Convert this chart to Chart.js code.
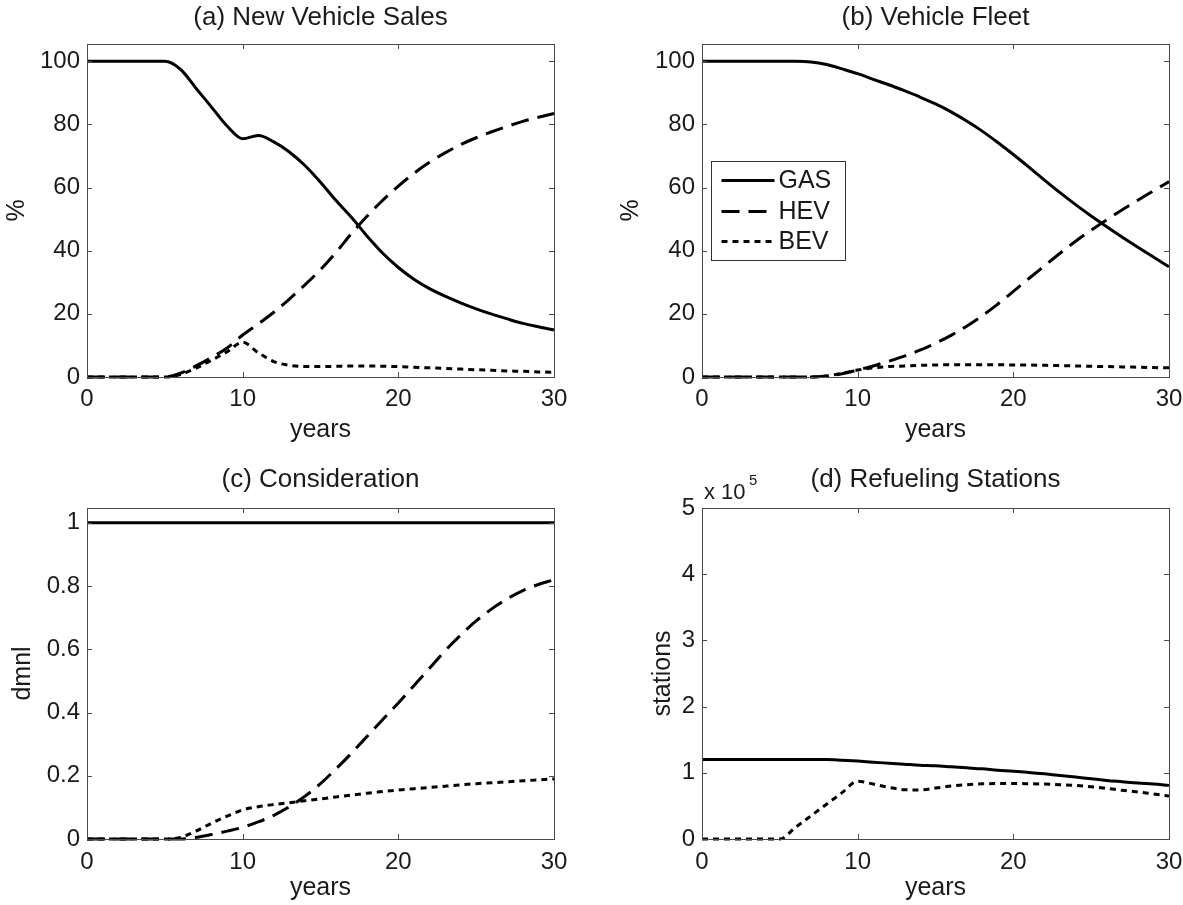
<!DOCTYPE html>
<html>
<head>
<meta charset="utf-8">
<script src="https://cdn.jsdelivr.net/npm/chart.js@4.4.1/dist/chart.umd.min.js"></script>
<style>
html, body { margin: 0; padding: 0; background: #fff; width: 1183px; height: 905px; overflow: hidden; }
canvas { position: absolute; display: block; }
</style>
</head>
<body>
<canvas id="ca"></canvas>
<canvas id="cb"></canvas>
<canvas id="cc"></canvas>
<canvas id="cd"></canvas>
<script>
// ---------------- data ----------------
const years = [0,1,2,3,4,5,6,7,8,9,10,11,12,13,14,15,16,17,18,19,20,21,22,23,24,25,26,27,28,29,30];
const xTicks = [0, 10, 20, 30];
const pctTicks = [0, 20, 40, 60, 80, 100];
const dmnlTicks = [0, 0.2, 0.4, 0.6, 0.8, 1];
const stationTicks = [0, 100000, 200000, 300000, 400000, 500000];

const seriesNames = ['GAS', 'HEV', 'BEV'];
const titles = ['(a) New Vehicle Sales', '(b) Vehicle Fleet', '(c) Consideration', '(d) Refueling Stations'];
const xLabel = 'years';
const yLabels = ['%', '%', 'dmnl', 'stations'];

// (a) new vehicle sales, %
const salesGAS = [100,100,100,100,100,100,97.5,91.5,85.5,79.5,75.5,76.5,74.5,71.3,67,61.7,55.9,50.5,44.6,39.2,34.7,31,28,25.6,23.5,21.6,19.9,18.4,17,15.9,14.9];
const salesHEV = [0,0,0,0,0,0,1.2,3.5,6.2,9.2,13.3,16.8,20.5,24.7,29.2,34,39.5,45.5,51,56,60.5,64.5,68,71,73.6,75.8,77.7,79.4,81,82.3,83.5];
const salesBEV = [0,0,0,0,0,0,0.8,2.8,5.3,8,11,7.7,4.9,3.7,3.3,3.3,3.4,3.5,3.5,3.4,3.3,3.1,2.9,2.7,2.5,2.3,2.1,1.9,1.8,1.6,1.5];

// (b) vehicle fleet, %
const fleetGAS = [100,100,100,100,100,100,100,99.8,99,97.6,96.1,94.3,92.6,90.7,88.7,86.5,84,81.1,77.9,74.3,70.5,66.5,62.4,58.4,54.6,51,47.6,44.3,41.1,38,34.9];
const fleetHEV = [0,0,0,0,0,0,0,0,0.3,1,2.2,3.5,5,6.6,8.5,10.7,13.2,16.1,19.4,23.1,27.1,31.2,35.2,39.2,43,46.5,49.8,53,56,59,61.9];
const fleetBEV = [0,0,0,0,0,0,0,0,0.3,1.2,2.2,2.9,3.3,3.5,3.7,3.8,3.9,3.9,3.9,3.9,3.8,3.8,3.7,3.6,3.5,3.4,3.3,3.2,3.1,3.0,2.9];

// (c) consideration, dmnl
const considGAS = [1,1,1,1,1,1,1,1,1,1,1,1,1,1,1,1,1,1,1,1,1,1,1,1,1,1,1,1,1,1,1];
const considHEV = [0,0,0,0,0,0,0,0.005,0.014,0.025,0.037,0.054,0.075,0.102,0.135,0.175,0.222,0.272,0.325,0.378,0.43,0.485,0.54,0.595,0.645,0.69,0.728,0.76,0.786,0.805,0.82];
const considBEV = [0,0,0,0,0,0,0.005,0.025,0.05,0.072,0.092,0.102,0.109,0.115,0.121,0.127,0.133,0.139,0.145,0.15,0.155,0.159,0.163,0.167,0.171,0.175,0.178,0.181,0.184,0.187,0.19];

// (d) refueling stations
const stationsGAS = [120000,120000,120000,120000,120000,120000,120000,120000,120000,119000,117700,116000,114500,113000,111500,110500,109000,107500,106000,104000,102500,100500,98500,96000,93500,91000,88500,86500,84500,83000,81000];
const stationsBEV = [0,0,0,0,0,0,17500,35000,52500,70000,87400,83000,78000,74500,74000,77000,80000,82000,83300,83700,83800,83500,83000,82000,81000,79000,76500,73500,71000,68000,65000];

// ---------------- styling ----------------
const FONT = '"Liberation Sans", Arial, Helvetica, sans-serif';
const TEXT = '#1a1a1a';
const TICK_PX = 24, LABEL_PX = 25, TITLE_PX = 26, LEGEND_PX = 25;
const styles = {
  GAS: { dash: [], order: 2 },
  HEV: { dash: [18, 9], order: 1 },
  BEV: { dash: [6, 5], order: 0 }
};

function dataset(name, values) {
  const s = styles[name];
  return {
    label: name,
    data: years.map((x, i) => ({ x: x, y: values[i] })),
    borderColor: '#000',
    borderWidth: 3,
    borderDash: s.dash,
    borderCapStyle: 'butt',
    borderJoinStyle: 'round',
    pointRadius: 0,
    pointHoverRadius: 0,
    fill: false,
    cubicInterpolationMode: 'monotone',
    order: s.order,
    clip: false
  };
}

const decor = {
  id: 'decor',
  afterDraw(chart, args, opts) {
    const ctx = chart.ctx, a = chart.chartArea, xs = chart.scales.x, ys = chart.scales.y;
    ctx.save();
    ctx.strokeStyle = '#4a4a4a';
    ctx.lineWidth = 1;
    ctx.setLineDash([]);
    const TL = 5;
    ctx.beginPath();
    xs.ticks.forEach(t => {
      const px = Math.round(xs.getPixelForValue(t.value)) + 0.5;
      ctx.moveTo(px, a.bottom); ctx.lineTo(px, a.bottom - TL);
      ctx.moveTo(px, a.top); ctx.lineTo(px, a.top + TL);
    });
    ys.ticks.forEach(t => {
      const py = Math.round(ys.getPixelForValue(t.value)) + 0.5;
      ctx.moveTo(a.left, py); ctx.lineTo(a.left + TL, py);
      ctx.moveTo(a.right, py); ctx.lineTo(a.right - TL, py);
    });
    ctx.stroke();
    ctx.strokeRect(Math.round(a.left) + 0.5, Math.round(a.top) + 0.5,
                   Math.round(a.right - a.left), Math.round(a.bottom - a.top));

    // title
    ctx.fillStyle = TEXT;
    ctx.font = TITLE_PX + 'px ' + FONT;
    ctx.textAlign = 'center';
    ctx.textBaseline = 'middle';
    ctx.fillText(opts.title, (a.left + a.right) / 2, opts.titleY);

    // exponent marker
    if (opts.exponent) {
      ctx.textAlign = 'left';
      ctx.textBaseline = 'alphabetic';
      ctx.font = '22px ' + FONT;
      ctx.fillText('x 10', a.left + 2, a.top - 9);
      ctx.font = '15px ' + FONT;
      ctx.fillText(opts.exponent, a.left + 47, a.top - 23);
    }

    // legend
    if (opts.legend) {
      const lx = Math.round(a.left + 9) + 0.5, ly = Math.round(a.top + 117) + 0.5;
      const lw = 134, lh = 99;
      ctx.fillStyle = '#fff';
      ctx.fillRect(lx, ly, lw, lh);
      ctx.strokeStyle = '#333';
      ctx.lineWidth = 1;
      ctx.strokeRect(lx, ly, lw, lh);
      const rows = [19, 50, 80];
      chart.data.datasets.forEach((ds, i) => {
        const yy = ly + rows[i];
        ctx.strokeStyle = '#000';
        ctx.lineWidth = 3;
        ctx.lineCap = 'butt';
        ctx.setLineDash(ds.borderDash);
        ctx.beginPath();
        ctx.moveTo(lx + 10, yy);
        ctx.lineTo(lx + 63, yy);
        ctx.stroke();
        ctx.setLineDash([]);
        ctx.fillStyle = TEXT;
        ctx.font = LEGEND_PX + 'px ' + FONT;
        ctx.textAlign = 'left';
        ctx.textBaseline = 'middle';
        ctx.fillText(ds.label, lx + 67, yy + 1);
      });
    }
    ctx.restore();
  }
};

// panel: page-coordinate layout of canvas and plot box
function makePanel(id, p) {
  const cv = document.getElementById(id);
  cv.width = p.cw; cv.height = p.ch;
  cv.style.left = p.cx + 'px'; cv.style.top = p.cy + 'px';
  cv.style.width = p.cw + 'px'; cv.style.height = p.ch + 'px';

  const lhLabel = LABEL_PX * 1.2;
  const lhTick = TICK_PX * 1.2;
  const L = p.L - p.cx, T = p.T - p.cy, R = p.R - p.cx, B = p.B - p.cy;
  const padLeft = (p.yTitleX - p.cx) - lhLabel / 2;
  const yWidth = L - padLeft;
  const xHeight = (p.xTitleY - p.cy) + lhLabel / 2 - B;
  const padBottom = p.ch - (B + xHeight);
  const xTickPad = (p.xTickY - p.B) - lhTick / 2;

  return new Chart(cv, {
    type: 'line',
    data: { datasets: p.series.map(s => dataset(s[0], s[1])) },
    options: {
      responsive: false,
      animation: false,
      devicePixelRatio: 1,
      events: [],
      layout: { padding: { left: padLeft, top: T, right: p.cw - R, bottom: padBottom } },
      plugins: {
        legend: { display: false },
        tooltip: { enabled: false },
        title: { display: false },
        decor: { title: p.title, titleY: p.titleY - p.cy, legend: !!p.legend, exponent: p.exponent || null }
      },
      scales: {
        x: {
          type: 'linear', min: 0, max: 30,
          grid: { display: false, drawTicks: false },
          border: { display: false },
          afterBuildTicks: s => { s.ticks = xTicks.map(v => ({ value: v })); },
          afterFit: s => { s.height = xHeight; },
          ticks: { padding: xTickPad, color: TEXT, font: { family: FONT, size: TICK_PX, lineHeight: 1.2 }, maxRotation: 0, autoSkip: false },
          title: { display: true, text: xLabel, color: TEXT, padding: 0, font: { family: FONT, size: LABEL_PX, lineHeight: 1.2 } }
        },
        y: {
          type: 'linear', min: p.yMin, max: p.yMax,
          grid: { display: false, drawTicks: false },
          border: { display: false },
          afterBuildTicks: s => { s.ticks = p.yTicks.map(v => ({ value: v })); },
          afterFit: s => { s.width = yWidth; },
          ticks: { padding: 7, color: TEXT, font: { family: FONT, size: TICK_PX, lineHeight: 1.2 }, callback: p.fmt },
          title: { display: true, text: p.yLabel, color: TEXT, padding: 0, font: { family: FONT, size: LABEL_PX, lineHeight: 1.2 } }
        }
      }
    },
    plugins: [decor]
  });
}

const plainFmt = v => String(+Number(v).toFixed(3));
const e5Fmt = v => String(+(v / 100000).toFixed(3));

makePanel('ca', {
  cx: 0, cy: 0, cw: 591, ch: 452,
  L: 87, T: 44, R: 554, B: 377,
  yTitleX: 17, xTitleY: 430, xTickY: 399, titleY: 18,
  yMin: 0, yMax: 105.5, yTicks: pctTicks, fmt: plainFmt,
  title: titles[0], yLabel: yLabels[0],
  series: [[seriesNames[0], salesGAS], [seriesNames[1], salesHEV], [seriesNames[2], salesBEV]]
});
makePanel('cb', {
  cx: 591, cy: 0, cw: 610, ch: 452,
  L: 702, T: 44, R: 1169, B: 377,
  yTitleX: 631, xTitleY: 430, xTickY: 399, titleY: 18,
  yMin: 0, yMax: 105.5, yTicks: pctTicks, fmt: plainFmt,
  title: titles[1], yLabel: yLabels[1], legend: true,
  series: [[seriesNames[0], fleetGAS], [seriesNames[1], fleetHEV], [seriesNames[2], fleetBEV]]
});
makePanel('cc', {
  cx: 0, cy: 452, cw: 591, ch: 453,
  L: 87, T: 508, R: 554, B: 839,
  yTitleX: 23, xTitleY: 888, xTickY: 862, titleY: 480,
  yMin: 0, yMax: 1.047, yTicks: dmnlTicks, fmt: plainFmt,
  title: titles[2], yLabel: yLabels[2],
  series: [[seriesNames[0], considGAS], [seriesNames[1], considHEV], [seriesNames[2], considBEV]]
});
makePanel('cd', {
  cx: 591, cy: 452, cw: 610, ch: 453,
  L: 702, T: 508, R: 1169, B: 839,
  yTitleX: 663, xTitleY: 888, xTickY: 862, titleY: 480,
  yMin: 0, yMax: 500000, yTicks: stationTicks, fmt: e5Fmt,
  title: titles[3], yLabel: yLabels[3], exponent: '5',
  series: [[seriesNames[0], stationsGAS], [seriesNames[2], stationsBEV]]
});
</script>
</body>
</html>
